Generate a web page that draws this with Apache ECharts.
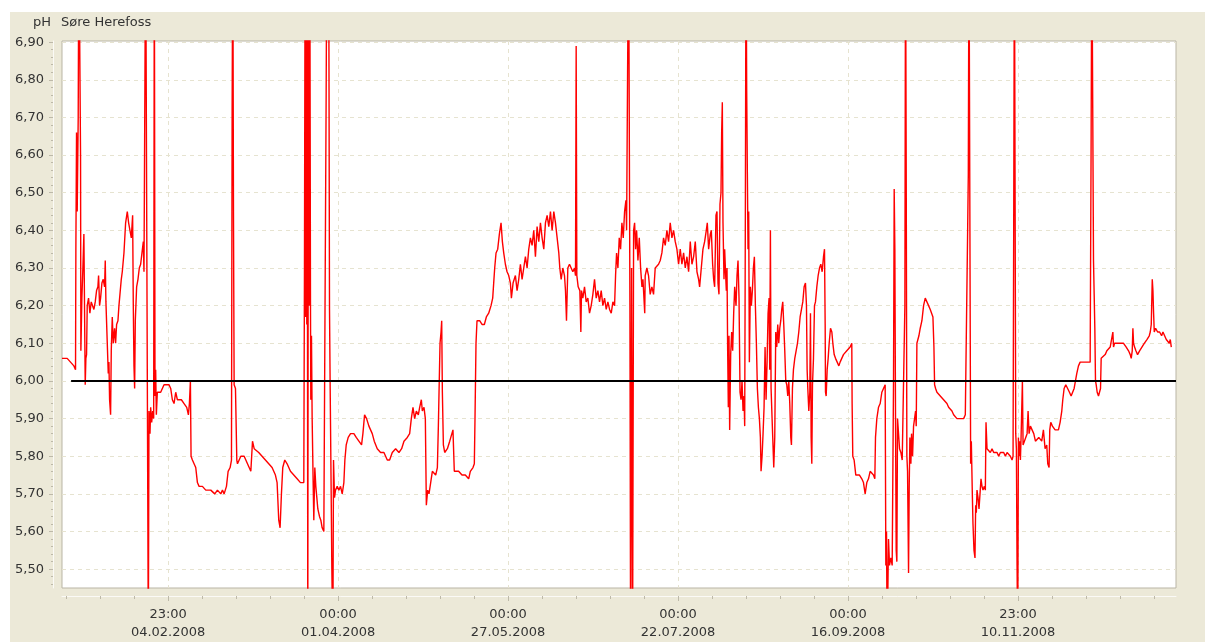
<!DOCTYPE html>
<html>
<head>
<meta charset="utf-8">
<script src="https://cdn.jsdelivr.net/npm/echarts@6/dist/echarts.min.js"></script>
<style>
  html, body { margin: 0; padding: 0; background: #ffffff; }
  #chart { position: absolute; left: 10px; top: 12px; width: 1195px; height: 630px; background: #ece9d8; }
</style>
</head>
<body>
<div id="chart"></div>
<script>
// ---- data (x = days since 01.01.2008 00:00, y = pH) ----
const stationName = 'Søre Herefoss';
const unitName = 'pH';
const limitValue = 6.0;
const limitStartDay = 3.0;
const axisStartDay = 0;
const axisEndDay = 367;
const yMin = 5.45;
const yMax = 6.903;
const yLabelValues = [5.5, 5.6, 5.7, 5.8, 5.9, 6.0, 6.1, 6.2, 6.3, 6.4, 6.5, 6.6, 6.7, 6.8, 6.9];
const tickDays = [34.958, 90.958, 146.958, 202.958, 258.958, 314.958];
const tickLabels = ['23:00\n04.02.2008', '00:00\n01.04.2008', '00:00\n27.05.2008', '00:00\n22.07.2008', '00:00\n16.09.2008', '23:00\n10.11.2008'];

const phReadings = [
[0,6.06],[0.39,6.06],[1.71,6.06],[2.81,6.05],[3.36,6.05],[3.91,6.04],[4.46,6.03],[4.57,6.35],[4.79,6.66],[5.01,6.45],[5.34,6.70],[5.56,7.2],[5.89,7.2],[6.11,6.60],[6.22,6.08],[6.55,6.22],[6.88,6.30],[7.21,6.39],[7.43,6.39],[7.65,5.99],[7.87,6.06],[8.09,6.07],[8.31,6.20],[8.75,6.22],[9.19,6.18],[9.63,6.21],[10.07,6.20],[10.51,6.19],[10.95,6.21],[11.39,6.24],[11.83,6.25],[12.05,6.28],[12.38,6.20],[12.71,6.22],[13.15,6.26],[13.59,6.27],[14.03,6.25],[14.25,6.32],[14.47,6.21],[14.91,6.21],[15.24,6.02],[15.46,6.05],[15.68,5.95],[16.01,5.91],[16.23,6.08],[16.56,6.17],[16.89,6.10],[17.33,6.14],[17.66,6.10],[17.99,6.15],[18.43,6.16],[18.76,6.20],[19.09,6.23],[19.53,6.27],[19.86,6.29],[20.41,6.34],[20.96,6.42],[21.51,6.45],[21.95,6.42],[22.39,6.40],[22.83,6.38],[23.27,6.44],[23.49,6.20],[23.71,6.04],[23.93,5.98],[24.15,6.16],[24.59,6.25],[25.03,6.27],[25.47,6.30],[25.91,6.31],[26.35,6.34],[26.79,6.37],[27.01,6.29],[27.23,6.65],[27.56,7.2],[27.89,7.2],[28.11,6.00],[28.44,5.3],[28.66,5.92],[28.99,5.86],[29.21,5.93],[29.54,5.89],[29.87,5.92],[30.20,5.90],[30.42,7.2],[30.64,5.96],[30.86,6.03],[31.08,5.91],[31.41,5.97],[31.96,5.97],[32.51,5.97],[33.06,5.98],[33.61,5.99],[34.49,5.99],[35.26,5.99],[35.81,5.98],[36.36,5.95],[36.91,5.94],[37.46,5.97],[38.01,5.95],[38.56,5.95],[39.33,5.95],[40.21,5.94],[41.09,5.93],[41.64,5.91],[41.97,5.94],[42.30,6.00],[42.52,5.80],[42.96,5.79],[43.51,5.78],[44.06,5.77],[44.61,5.73],[45.16,5.72],[46.26,5.72],[47.36,5.71],[49.01,5.71],[50.33,5.70],[51.21,5.71],[52.31,5.70],[52.86,5.71],[53.41,5.70],[54.18,5.72],[54.73,5.76],[55.39,5.77],[55.83,5.79],[56.05,6.72],[56.27,7.2],[56.49,6.45],[56.71,5.99],[57.15,5.98],[57.59,5.79],[57.81,5.78],[58.36,5.79],[58.91,5.80],[60.01,5.80],[60.56,5.79],[61.66,5.77],[62.21,5.76],[62.76,5.84],[63.31,5.82],
[63.71,5.82],[64.81,5.81],[65.91,5.80],[67.01,5.79],[68.11,5.78],[69.21,5.77],[70.31,5.75],[70.86,5.73],[71.41,5.63],[71.85,5.61],[72.29,5.70],[72.73,5.77],[73.39,5.79],[74.16,5.78],[75.26,5.76],[76.36,5.75],[77.46,5.74],[78.56,5.73],[79.66,5.73],[79.88,6.31],[80.10,7.2],[80.21,6.17],[80.43,7.2],[80.65,6.15],[80.76,7.2],[80.98,5.3],[81.20,7.2],[81.42,6.20],[81.64,7.2],[81.86,6.21],[81.97,5.95],[82.19,6.12],[82.41,5.90],[82.74,5.73],[82.96,5.63],[83.29,5.77],[83.62,5.72],[83.95,5.69],[84.28,5.66],[84.83,5.64],[85.27,5.63],[85.71,5.61],[86.26,5.60],[86.81,5.60],[87.03,6.77],[87.25,7.2],[87.58,7.2],[87.91,7.0],[88.13,6.19],[88.35,5.98],[88.68,5.70],[88.90,5.50],[89.23,5.3],[89.45,5.79],[89.78,5.69],[90.11,5.71],[90.66,5.72],[91.21,5.71],[91.76,5.72],[92.31,5.70],[92.86,5.73],[93.19,5.79],[93.63,5.83],[94.29,5.85],[95.06,5.86],[96.16,5.86],[96.93,5.85],[97.81,5.84],[98.69,5.83],[99.13,5.86],[99.68,5.91],[100.34,5.90],[101.11,5.88],[102.21,5.86],[102.87,5.84],[103.86,5.82],[104.96,5.81],[106.06,5.81],[107.16,5.79],[107.93,5.79],[108.81,5.81],[109.91,5.82],[111.01,5.81],[111.89,5.82],[112.66,5.84],[113.76,5.85],[114.53,5.86],[115.08,5.90],[115.63,5.93],[116.18,5.90],[116.73,5.92],[117.39,5.91],[117.83,5.93],[118.38,5.95],[118.71,5.92],[119.26,5.93],[119.70,5.90],[120.03,5.67],[120.47,5.71],[120.91,5.70],[121.46,5.73],[122.01,5.76],[122.56,5.76],[123.11,5.75],[123.66,5.77],[123.99,5.88],[124.21,5.97],[124.54,6.10],[124.87,6.13],[125.09,6.16],[125.31,5.97],[125.64,5.83],[126.08,5.81],[126.96,5.82],[127.73,5.84],
[127.92,5.84],[128.80,5.87],[129.24,5.76],[129.90,5.76],[130.67,5.76],[131.77,5.75],[132.87,5.75],[133.97,5.74],[134.52,5.76],[135.40,5.77],[135.84,5.78],[136.06,5.90],[136.39,6.10],[136.72,6.16],[137.60,6.16],[138.37,6.15],[139.14,6.15],[139.80,6.17],[140.57,6.18],[141.34,6.20],[141.89,6.22],[142.22,6.26],[142.55,6.30],[142.99,6.34],[143.54,6.35],[144.09,6.39],[144.64,6.42],[145.08,6.37],[145.52,6.34],[146.07,6.31],[146.62,6.29],[147.17,6.28],[147.72,6.26],[148.05,6.22],[148.60,6.26],[149.37,6.28],[149.92,6.24],[150.47,6.27],[151.02,6.31],[151.57,6.27],[152.12,6.30],[152.67,6.33],[153.22,6.30],[153.77,6.35],[154.32,6.38],[154.87,6.36],[155.42,6.40],[155.97,6.33],[156.52,6.41],[157.07,6.37],[157.62,6.42],[158.17,6.38],[158.72,6.35],[159.27,6.42],[159.82,6.44],[160.37,6.41],[160.92,6.45],[161.47,6.40],[162.02,6.45],[162.57,6.42],[163.12,6.38],[163.67,6.34],[164.00,6.30],[164.44,6.27],[164.99,6.30],[165.54,6.28],[165.87,6.24],[166.20,6.16],[166.64,6.30],[167.19,6.31],[167.74,6.30],[168.29,6.29],[168.84,6.30],[169.17,6.28],[169.39,6.89],[169.61,6.28],[170.05,6.25],[170.60,6.24],[170.93,6.13],[171.15,6.24],[171.59,6.22],[172.14,6.25],[172.69,6.21],[173.24,6.22],[173.79,6.18],[174.34,6.20],[174.89,6.23],[175.44,6.27],[175.99,6.22],[176.54,6.24],[177.09,6.21],[177.64,6.24],[178.19,6.20],[178.74,6.22],[179.29,6.19],[179.84,6.21],[180.39,6.19],[180.94,6.18],[181.49,6.21],[182.04,6.20],[182.37,6.28],[182.70,6.34],[183.14,6.30],[183.58,6.38],[184.02,6.35],[184.46,6.42],[184.90,6.38],[185.34,6.45],[185.78,6.48],[186.00,6.40],[186.33,6.82],[186.66,7.2],[186.99,7.2],[187.10,6.20],[187.32,5.3],[187.65,6.30],[187.98,5.3],[188.31,6.40],[188.64,6.42],[188.97,6.35],[189.30,6.40],[189.74,6.32],[190.18,6.38],[190.62,6.30],[191.06,6.25],[191.39,6.27],[191.72,6.22],[191.98,6.18],
[192.13,6.28],[192.68,6.30],[193.23,6.28],[193.78,6.23],[194.33,6.25],[194.88,6.23],[195.43,6.30],[195.98,6.30],[196.53,6.31],[197.08,6.32],[197.63,6.34],[198.18,6.38],[198.73,6.36],[199.28,6.40],[199.83,6.37],[200.38,6.42],[200.93,6.38],[201.48,6.40],[202.03,6.37],[202.58,6.35],[203.13,6.31],[203.68,6.35],[204.23,6.31],[204.78,6.34],[205.33,6.30],[205.88,6.33],[206.43,6.29],[206.98,6.37],[207.53,6.31],[208.08,6.33],[208.63,6.37],[209.18,6.29],[209.73,6.27],[210.06,6.25],[210.61,6.30],[211.16,6.35],[211.71,6.37],[212.26,6.40],[212.59,6.42],[213.03,6.35],[213.58,6.39],[213.91,6.40],[214.35,6.31],[214.68,6.27],[215.01,6.25],[215.45,6.44],[215.78,6.45],[216.11,6.26],[216.44,6.23],[216.77,6.47],[217.10,6.50],[217.32,6.66],[217.54,6.74],[217.76,6.42],[218.09,6.27],[218.31,6.35],[218.64,6.28],[218.86,6.24],[219.08,6.30],[219.30,6.08],[219.52,5.93],[219.74,6.12],[219.96,5.87],[220.29,6.07],[220.62,6.13],[220.95,6.08],[221.28,6.18],[221.61,6.25],[222.05,6.20],[222.38,6.28],[222.71,6.32],[223.04,6.22],[223.37,5.97],[223.70,5.95],[224.03,6.00],[224.36,5.92],[224.69,5.96],[224.91,5.88],[225.13,6.45],[225.35,7.2],[225.57,6.77],[225.79,6.55],[226.01,6.35],[226.23,6.45],[226.45,6.05],[226.78,6.25],[227.11,6.20],[227.44,6.24],[227.77,6.30],[228.10,6.33],[228.43,6.20],[228.76,6.10],[229.09,5.98],[229.42,5.93],[229.75,5.90],[230.08,5.85],[230.30,5.76],[230.63,5.80],[230.96,5.86],[231.29,5.93],[231.62,6.09],[231.95,5.95],[232.28,6.05],[232.61,6.18],[232.94,6.22],[233.16,6.03],[233.38,6.40],[233.60,5.98],[233.93,5.90],[234.15,5.85],[234.48,5.77],[234.81,5.85],[235.14,6.13],[235.47,6.09],[235.80,6.15],[236.13,6.10],[236.46,6.14],[236.79,6.16],[237.12,6.19],[237.45,6.21],[237.78,6.15],[238.11,6.08],[238.44,6.00],[238.77,5.99],[239.10,5.96],[239.43,6.00],[239.76,5.94],[240.09,5.85],[240.31,5.83],[240.64,5.98],[240.97,6.03],[241.41,6.06],[241.85,6.08],[242.29,6.10],[242.73,6.13],[243.17,6.17],[243.61,6.19],[244.05,6.21],[244.49,6.25],[244.93,6.26],[245.26,6.20],[245.48,6.03],[245.70,5.98],[246.03,5.92],[246.36,5.97],[246.58,6.18],[246.80,5.85],[247.02,5.78],[247.24,5.99],[247.57,6.06],[247.90,6.20],[248.23,6.21],[248.67,6.25],[249.11,6.28],[249.55,6.30],[249.99,6.31],[250.43,6.29],[250.87,6.33],[251.20,6.35],[251.42,6.15],[251.53,5.97],[251.75,5.96],[252.08,6.03],[252.41,6.06],[252.74,6.10],[253.18,6.14],[253.62,6.13],[253.95,6.10],[254.39,6.07],[254.83,6.06],[255.38,6.05],[255.93,6.04],
[256.34,6.05],[257.44,6.07],[258.54,6.08],[259.64,6.09],[260.19,6.10],[260.30,5.94],[260.52,5.80],[260.96,5.79],[261.51,5.75],[262.06,5.75],[262.72,5.75],[263.49,5.74],[264.04,5.73],[264.59,5.70],[265.14,5.73],[265.69,5.74],[266.24,5.76],[266.79,5.76],[267.34,5.75],[267.78,5.74],[268.00,5.85],[268.44,5.90],[268.99,5.93],[269.54,5.94],[270.09,5.97],[270.64,5.98],[271.19,5.99],[271.41,5.51],[271.63,5.60],[271.85,5.3],[272.29,5.58],[272.62,5.51],[273.06,5.53],[273.50,5.51],[273.94,6.00],[274.16,6.51],[274.38,6.35],[274.60,5.90],[274.82,5.55],[275.04,5.52],[275.26,5.90],[275.59,5.86],[275.92,5.82],[276.36,5.81],[276.80,5.79],[277.24,5.79],[277.68,6.20],[277.90,7.2],[278.12,6.56],[278.34,5.80],[278.56,5.76],[278.89,5.49],[279.11,5.72],[279.33,5.85],[279.66,5.78],[279.88,5.86],[280.21,5.80],[280.54,5.88],[280.87,5.90],[281.20,5.92],[281.42,5.88],[281.64,6.10],[281.97,6.11],[282.30,6.12],[282.74,6.14],[283.29,6.16],[283.84,6.20],[284.39,6.22],[284.94,6.21],[285.49,6.20],[286.04,6.19],[286.59,6.19],[286.92,6.17],[287.25,6.09],[287.47,5.99],[287.80,5.98],[288.24,5.97],[288.79,5.97],[289.34,5.96],[289.89,5.96],[290.44,5.95],[290.99,5.95],[291.54,5.94],[292.09,5.93],[292.64,5.93],[293.19,5.92],[293.74,5.91],[294.29,5.91],[294.84,5.90],[295.94,5.90],[297.04,5.90],[297.59,5.91],[298.14,5.91],[298.36,6.40],[298.58,6.55],[298.80,7.2],[299.13,7.2],[299.35,5.78],[299.57,5.84],[299.90,5.70],[300.12,5.62],[300.45,5.55],[300.78,5.53],[301.00,5.67],[301.22,5.65],[301.44,5.71],[301.77,5.69],[302.10,5.66],[302.43,5.70],[302.76,5.74],[303.09,5.72],[303.42,5.71],[303.86,5.72],[304.19,5.71],[304.41,5.89],[304.74,5.82],[305.29,5.82],[305.84,5.81],[306.39,5.82],[306.94,5.81],[307.49,5.81],[308.04,5.81],[308.59,5.80],[309.14,5.81],[309.69,5.81],[310.24,5.81],[310.79,5.80],[311.34,5.81],[311.89,5.81],[312.44,5.80],[312.99,5.79],[313.32,5.80],[313.54,6.43],[313.76,7.2],[313.98,7.2],[314.20,5.86],[314.42,5.82],[314.64,5.51],[314.86,5.3],[315.08,5.85],[315.30,5.80],[315.52,5.84],[315.74,5.79],[315.96,5.85],[316.40,6.00],[316.62,5.83],[317.06,5.84],[317.50,5.85],[317.94,5.86],[318.27,5.92],[318.60,5.86],[319.04,5.88],[319.59,5.87],[320.14,5.86],[320.69,5.84],[321.24,5.84],[321.79,5.85],
[322.77,5.84],[323.32,5.87],[323.87,5.82],[324.42,5.83],[324.75,5.78],[325.19,5.77],[325.41,5.87],[325.74,5.89],[326.29,5.88],[327.17,5.87],[328.27,5.87],[328.82,5.89],[329.37,5.92],[329.70,5.95],[330.14,5.98],[330.69,5.99],[331.24,5.99],[331.90,5.97],[332.45,5.96],[333.00,5.96],[333.44,5.98],[333.88,6.00],[334.32,6.02],[334.87,6.04],[335.42,6.05],[336.52,6.05],[337.62,6.05],[338.72,6.05],[339.05,6.66],[339.27,7.2],[339.60,7.2],[339.82,6.32],[340.04,6.23],[340.26,6.14],[340.48,6.00],[340.70,5.99],[341.03,5.97],[341.47,5.96],[341.91,5.96],[342.13,5.98],[342.35,6.06],[342.90,6.06],[343.67,6.07],[344.22,6.08],[344.77,6.08],[345.32,6.09],[345.87,6.09],[346.20,6.13],[346.42,6.09],[346.75,6.10],[348.07,6.10],[349.72,6.10],[350.60,6.09],[351.37,6.08],[351.92,6.07],[352.25,6.06],[352.58,6.08],[352.80,6.14],[353.02,6.10],[353.35,6.09],[353.79,6.08],[354.34,6.07],[355.00,6.08],[355.77,6.09],[356.54,6.10],[357.42,6.11],[358.19,6.12],[358.52,6.13],[358.85,6.15],[359.18,6.27],[359.40,6.24],[359.62,6.18],[359.84,6.13],[360.28,6.14],[360.94,6.13],[361.60,6.13],[362.26,6.12],[362.70,6.13],[363.25,6.12],[363.80,6.11],[364.35,6.11],[364.79,6.10],[365.12,6.11],[365.45,6.09],[365.67,6.09]
];

// ---- helpers (axis ticks, not series data) ----
const minorStepDays = 11.2;
const minorTickDays = [];
for (let d = tickDays[0] - 3 * minorStepDays; d <= axisEndDay; d += minorStepDays) minorTickDays.push(+d.toFixed(3));
const yMinorTicks = [];
for (let i = 0; ; i++) { const v = +(5.46 + i * 0.02).toFixed(2); if (v > 6.9001) break; yMinorTicks.push(v); }

const FONT = 'DejaVu Sans';
const TXT = '#333333';
const chart = echarts.init(document.getElementById('chart'), null, { renderer: 'canvas' });

chart.setOption({
  animation: false,
  backgroundColor: '#ece9d8',
  title: [
    { text: unitName, left: 23, top: 3, padding: 0, textStyle: { fontFamily: FONT, fontSize: 13, fontWeight: 'normal', color: TXT, lineHeight: 16 } },
    { text: stationName, left: 51, top: 3, padding: 0, textStyle: { fontFamily: FONT, fontSize: 13, fontWeight: 'normal', color: TXT, lineHeight: 16 } }
  ],
  grid: {
    left: 52, top: 29, width: 1114, height: 549,
    show: true, backgroundColor: '#ffffff', borderColor: '#b9b5a5', borderWidth: 1
  },
  xAxis: [
    {
      type: 'value', min: axisStartDay, max: axisEndDay, position: 'bottom', offset: 8,
      axisLine: { show: true, onZero: false, lineStyle: { color: '#fbfaf6', width: 1 } },
      axisTick: { show: true, customValues: tickDays, length: 5, inside: false, lineStyle: { color: '#bdb9a9' } },
      axisLabel: {
        customValues: tickDays, margin: 10, fontFamily: FONT, fontSize: 13, lineHeight: 18, color: TXT,
        formatter: function (v) {
          let best = 0;
          for (let i = 1; i < tickDays.length; i++) if (Math.abs(tickDays[i] - v) < Math.abs(tickDays[best] - v)) best = i;
          return tickLabels[best];
        }
      },
      splitLine: { show: true, lineStyle: { color: '#e6e3d0', type: [4, 4], width: 1 } }
    },
    {
      type: 'value', min: axisStartDay, max: axisEndDay, position: 'bottom', offset: 8,
      axisLine: { show: false, onZero: false },
      axisTick: { show: true, customValues: minorTickDays, length: 3, lineStyle: { color: '#bdb9a9' } },
      axisLabel: { show: false },
      splitLine: { show: false }
    }
  ],
  yAxis: [
    {
      type: 'value', min: yMin, max: yMax, position: 'left', offset: 9,
      axisLine: { show: true, onZero: false, lineStyle: { color: '#fbfaf6', width: 1 } },
      axisTick: { show: true, customValues: yLabelValues, length: 4, lineStyle: { color: '#bdb9a9' } },
      axisLabel: {
        customValues: yLabelValues, margin: 9, fontFamily: FONT, fontSize: 13, color: TXT,
        formatter: function (v) { return v.toFixed(2).replace('.', ','); }
      },
      splitLine: { show: true, lineStyle: { color: '#e6e3d0', type: [4, 4], width: 1 } }
    },
    {
      type: 'value', min: yMin, max: yMax, position: 'left', offset: 9,
      axisLine: { show: false, onZero: false },
      axisTick: { show: true, customValues: yMinorTicks, length: 2, lineStyle: { color: '#bdb9a9' } },
      axisLabel: { show: false },
      splitLine: { show: false }
    }
  ],
  series: [
    {
      type: 'line', name: unitName, xAxisIndex: 0, yAxisIndex: 0,
      data: phReadings, showSymbol: false, symbol: 'none', clip: true,
      lineStyle: { color: '#ff0000', width: 1.4 }, z: 2
    },
    {
      type: 'line', name: 'limit', xAxisIndex: 0, yAxisIndex: 0,
      data: [[limitStartDay, limitValue], [axisEndDay, limitValue]],
      showSymbol: false, symbol: 'none', clip: true,
      lineStyle: { color: '#000000', width: 2 }, z: 3
    }
  ]
});
</script>
</body>
</html>
